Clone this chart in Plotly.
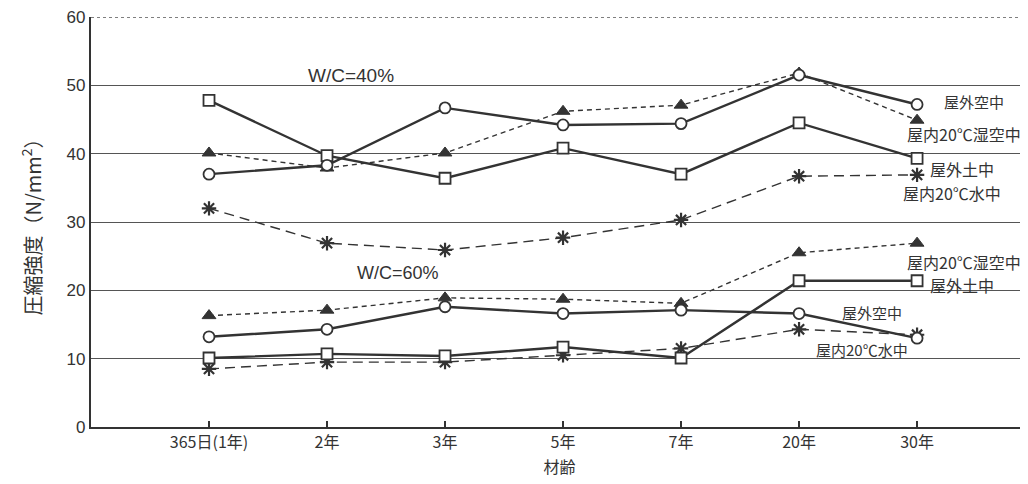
import plotly.graph_objects as go

categories = ["365日(1年)", "2年", "3年", "5年", "7年", "20年", "30年"]

wc40_outdoor_air = [37.0, 38.3, 46.7, 44.2, 44.4, 51.5, 47.2]
wc40_outdoor_soil = [47.8, 39.7, 36.4, 40.8, 37.0, 44.5, 39.3]
wc40_indoor_moist = [40.1, 37.9, 40.1, 46.2, 47.1, 51.8, 44.9]
wc40_indoor_water = [32.0, 26.9, 25.9, 27.7, 30.3, 36.7, 36.9]

wc60_outdoor_air = [13.2, 14.3, 17.6, 16.6, 17.1, 16.6, 13.0]
wc60_outdoor_soil = [10.1, 10.7, 10.4, 11.7, 10.1, 21.4, 21.4]
wc60_indoor_moist = [16.3, 17.1, 18.9, 18.7, 18.1, 25.5, 26.9]
wc60_indoor_water = [8.5, 9.5, 9.5, 10.5, 11.5, 14.3, 13.5]

C = "#333333"
x = list(range(len(categories)))

fig = go.Figure()

def add(vals, symbol, dash, lw, size, fill, mlw):
    fig.add_trace(go.Scatter(
        x=x, y=vals, mode="lines+markers",
        line=dict(color=C, width=lw, dash=dash),
        marker=dict(symbol=symbol, size=size, color=fill,
                    line=dict(color=C, width=mlw)),
        showlegend=False, cliponaxis=False))

for grp in [(wc40_indoor_water, wc40_indoor_moist, wc40_outdoor_soil, wc40_outdoor_air),
            (wc60_indoor_water, wc60_indoor_moist, wc60_outdoor_soil, wc60_outdoor_air)]:
    water, moist, soil, air = grp
    add(water, "asterisk-open", "10px,6px", 1.4, 12, C, 2.2)
    add(moist, "triangle-up", "5px,4px", 1.4, 12, C, 1)
    add(soil, "square", "solid", 2.4, 11, "white", 1.8)
    add(air, "circle", "solid", 2.4, 11, "white", 1.8)

font_jp = "Noto Sans CJK JP"
annots = [
    ("W/C=40%", 1.2, 51.5, "Liberation Sans, Arial", 19),
    ("W/C=60%", 1.6, 22.5, "Liberation Sans, Arial", 18),
    ("屋外空中", 6.48, 47.6, font_jp, 15),
    ("屋内20℃湿空中", 6.4, 42.9, font_jp, 16),
    ("屋外土中", 6.38, 37.8, font_jp, 16),
    ("屋内20℃水中", 6.3, 34.2, font_jp, 16),
    ("屋内20℃湿空中", 6.4, 24.2, font_jp, 16),
    ("屋外土中", 6.38, 20.8, font_jp, 16),
    ("屋外空中", 5.62, 16.8, font_jp, 15),
    ("屋内20℃水中", 5.53, 11.4, font_jp, 15),
]
for t, ax, ay, f, s in annots:
    fig.add_annotation(x=ax, y=ay, text=t, showarrow=False,
                       font=dict(family=f, size=s, color=C), xanchor="center", yanchor="middle")

fig.add_shape(type="line", xref="paper", yref="y", x0=0, x1=1, y0=60, y1=60,
              line=dict(color="#555555", width=1.5, dash="dot"))

fig.update_layout(
    width=1028, height=484,
    margin=dict(l=83, r=8, t=9, b=65),
    paper_bgcolor="white", plot_bgcolor="white",
    font=dict(family="Liberation Sans, Arial", color=C, size=16),
    xaxis=dict(
        range=[-1, 6.94], tickmode="array", tickvals=x, ticktext=categories,
        showgrid=False, showline=True, linecolor=C, linewidth=2.2,
        ticks="inside", ticklen=6, tickcolor=C, tickwidth=1.5,
        tickfont=dict(family=font_jp, size=16, color=C),
        title=dict(text="材齢", font=dict(family=font_jp, size=16, color=C), standoff=10),
        zeroline=False, automargin=False,
    ),
    yaxis=dict(
        range=[0, 60], tickmode="array", tickvals=[0, 10, 20, 30, 40, 50, 60],
        showgrid=True, gridcolor="#555555", gridwidth=1.3,
        showline=True, linecolor=C, linewidth=2.2, ticks="", zeroline=False,
        tickfont=dict(size=17, color=C), ticklabeloverflow="allow", automargin=False,
        title=dict(text="圧縮強度（N/mm<sup>2</sup>）", font=dict(family=font_jp, size=20, color=C), standoff=20),
    ),
)

fig.write_html("out.html")
